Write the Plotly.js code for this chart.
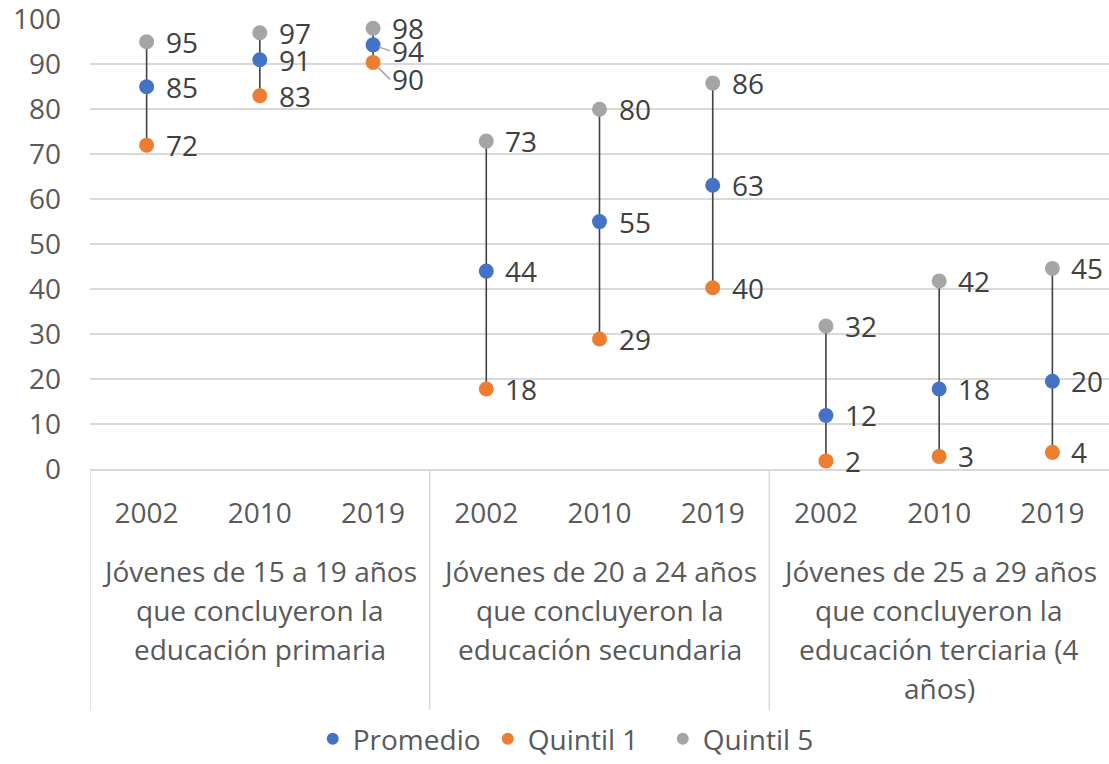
<!DOCTYPE html>
<html>
<head>
<meta charset="utf-8">
<script src="https://cdn.plot.ly/plotly-3.0.1.min.js"></script>
<style>html,body{margin:0;padding:0;background:#fff;}#chart{width:1109px;height:764px;}</style>
</head>
<body>
<div id="chart"></div>
<script>
// ---- Data ----
const years = ["2002", "2010", "2019", "2002", "2010", "2019", "2002", "2010", "2019"];
const groupLabels = [
  ["Jóvenes de 15 a 19 años", "que concluyeron la", "educación primaria"],
  ["Jóvenes de 20 a 24 años", "que concluyeron la", "educación secundaria"],
  ["Jóvenes de 25 a 29 años", "que concluyeron la", "educación terciaria (4", "años)"]
];
const promedio = [85, 91, 94.3, 44, 55, 63.1, 11.9, 17.8, 19.5];
const quintil1 = [72, 83, 90.4, 17.8, 28.9, 40.3, 1.8, 2.8, 3.7];
const quintil5 = [95, 97, 98, 72.9, 80, 85.8, 31.8, 41.8, 44.6];

// ---- Build ----
const xs = years.map((_, i) => i);
const FONT = "Open Sans, Noto Sans, sans-serif";
const TXT = "#595959";
const LBL = "#404040";

const lx = [], ly = [];
xs.forEach((x, i) => { lx.push(x, x, null); ly.push(quintil1[i], quintil5[i], null); });

function mk(name, ys, color) {
  return {x: xs, y: ys, name: name, type: "scatter", mode: "markers",
    marker: {color: color, size: 15}, cliponaxis: false, hoverinfo: "skip"};
}
const traces = [
  {x: lx, y: ly, type: "scatter", mode: "lines", line: {color: "#404040", width: 1.6},
   showlegend: false, hoverinfo: "skip"},
  mk("Promedio", promedio, "#4472C4"),
  mk("Quintil 1", quintil1, "#ED7D31"),
  mk("Quintil 5", quintil5, "#A5A5A5")
];

const plotH = 450; // px height of plot area
const annotations = [];

// data labels
function addLabels(ys, crowded) {
  ys.forEach((v, i) => {
    const a = {x: i, y: v, xref: "x", yref: "y", text: String(Math.round(v)),
      xanchor: "left", yanchor: "middle", showarrow: false,
      font: {family: FONT, size: 28, color: LBL}, xshift: 17, yshift: 0};
    if (crowded && crowded[i] !== undefined) {
      a.showarrow = true; a.arrowhead = 0; a.arrowwidth = 1.5; a.arrowcolor = "#A6A6A6";
      a.ax = 17; a.ay = crowded[i]; a.axref = "pixel"; a.ayref = "pixel";
      a.standoff = 6; a.xshift = 0; a.yshift = 0;
    }
    annotations.push(a);
  });
}
addLabels(quintil5, null);
addLabels(promedio, {2: 6});
addLabels(quintil1, {2: 17});

// category group labels
groupLabels.forEach((lines, g) => {
  lines.forEach((t, k) => {
    annotations.push({
      x: g * 3 + 1, xref: "x", yref: "paper",
      y: -(102 + k * 39) / plotH, yanchor: "middle", xanchor: "center",
      text: t, showarrow: false, font: {family: FONT, size: 28, color: TXT}
    });
  });
});

const shapes = [];
[-0.5, 2.5, 5.5].forEach(x => {
  shapes.push({type: "line", xref: "x", yref: "paper", x0: x, x1: x, y0: 0, y1: -241 / plotH,
    line: {color: "#D9D9D9", width: 1.5}});
});

const layout = {
  width: 1109, height: 764,
  margin: {l: 90, r: 0, t: 19, b: 295, autoexpand: false},
  paper_bgcolor: "#fff", plot_bgcolor: "#fff",
  font: {family: FONT, size: 28, color: TXT},
  showlegend: true,
  legend: {orientation: "h", xref: "container", yref: "container", x: 0.282, xanchor: "left",
    y: -0.005, yanchor: "bottom",
    font: {family: FONT, size: 28, color: TXT}, itemsizing: "constant", traceorder: "normal",
    entrywidth: 130},
  xaxis: {range: [-0.5, 8.5], tickmode: "array", tickvals: xs, ticktext: years,
    showgrid: false, zeroline: false, showline: true, linecolor: "#D9D9D9", linewidth: 1.5,
    ticks: "", ticklabelstandoff: 19, tickfont: {family: FONT, size: 28, color: TXT},
    automargin: false, fixedrange: true},
  yaxis: {range: [0, 100.05], dtick: 10, tick0: 0, showgrid: true, gridcolor: "#D9D9D9", gridwidth: 1.5,
    zeroline: false, showline: false, ticks: "", ticklabelstandoff: 28, ticklabeloverflow: "allow",
    tickfont: {family: FONT, size: 28, color: TXT}, automargin: false, fixedrange: true},
  annotations: annotations,
  shapes: shapes
};

Plotly.newPlot("chart", traces, layout, {displayModeBar: false, staticPlot: true});
</script>
</body>
</html>
